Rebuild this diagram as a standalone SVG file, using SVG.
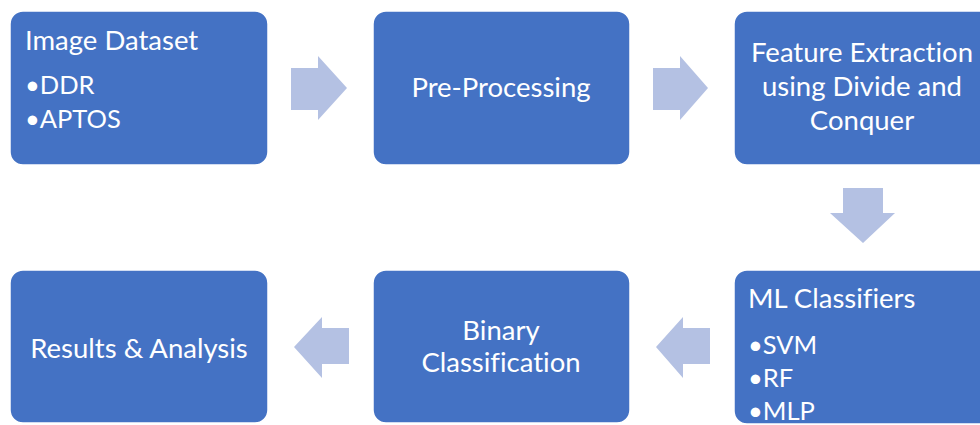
<svg xmlns="http://www.w3.org/2000/svg" width="980" height="425" viewBox="0 0 980 425">
<style>
.box{fill:#4472C4;stroke:#ffffff;stroke-width:1.5}
.arr{fill:#B4C1E3}
.t{font-family:Lato,"Open Sans","Liberation Sans",sans-serif;font-size:27.5px;fill:#ffffff;font-variant-ligatures:none}
.b{font-size:25.5px}
.c{text-anchor:middle}
</style>
<rect width="980" height="425" fill="#ffffff"/>
<g id="connectors">
<polygon class="arr" points="291,68 318,68 318,56 347,88 318,120 318,110 291,110"/>
<polygon class="arr" points="653,68 680,68 680,56 708,88 680,120 680,110 653,110"/>
<polygon class="arr" points="843,188 883,188 883,213 895,213 863,243 830,213 843,213"/>
<polygon class="arr" points="349,328 322,328 322,317 294,347 322,378 322,364 349,364"/>
<polygon class="arr" points="710,328 683,328 683,317 656,347 683,378 683,364 710,364"/>
</g>
<g id="image-dataset">
<rect class="box" x="10" y="11" width="258" height="154" rx="13"/>
<text class="t" x="25" y="50">Image Dataset</text>
<text class="t b" x="25" y="94">•DDR</text>
<text class="t b" x="25" y="128">•APTOS</text>
</g>
<g id="pre-processing">
<rect class="box" x="373" y="11" width="257" height="154" rx="13"/>
<text class="t c" x="501" y="97">Pre-Processing</text>
</g>
<g id="feature-extraction">
<rect class="box" x="734" y="11" width="260" height="154" rx="13"/>
<text class="t c" x="862" y="62">Feature Extraction</text>
<text class="t c" x="862" y="96">using Divide and</text>
<text class="t c" x="862" y="130">Conquer</text>
</g>
<g id="ml-classifiers">
<rect class="box" x="734" y="270" width="260" height="154" rx="13"/>
<text class="t" x="748" y="308">ML Classifiers</text>
<text class="t b" x="748" y="354">•SVM</text>
<text class="t b" x="748" y="387">•RF</text>
<text class="t b" x="748" y="420">•MLP</text>
</g>
<g id="binary-classification">
<rect class="box" x="373" y="270" width="257" height="153" rx="13"/>
<text class="t c" x="501" y="340">Binary</text>
<text class="t c" x="501" y="372">Classification</text>
</g>
<g id="results-analysis">
<rect class="box" x="10" y="270" width="258" height="153" rx="13"/>
<text class="t c" x="139" y="358">Results &amp; Analysis</text>
</g>
</svg>
